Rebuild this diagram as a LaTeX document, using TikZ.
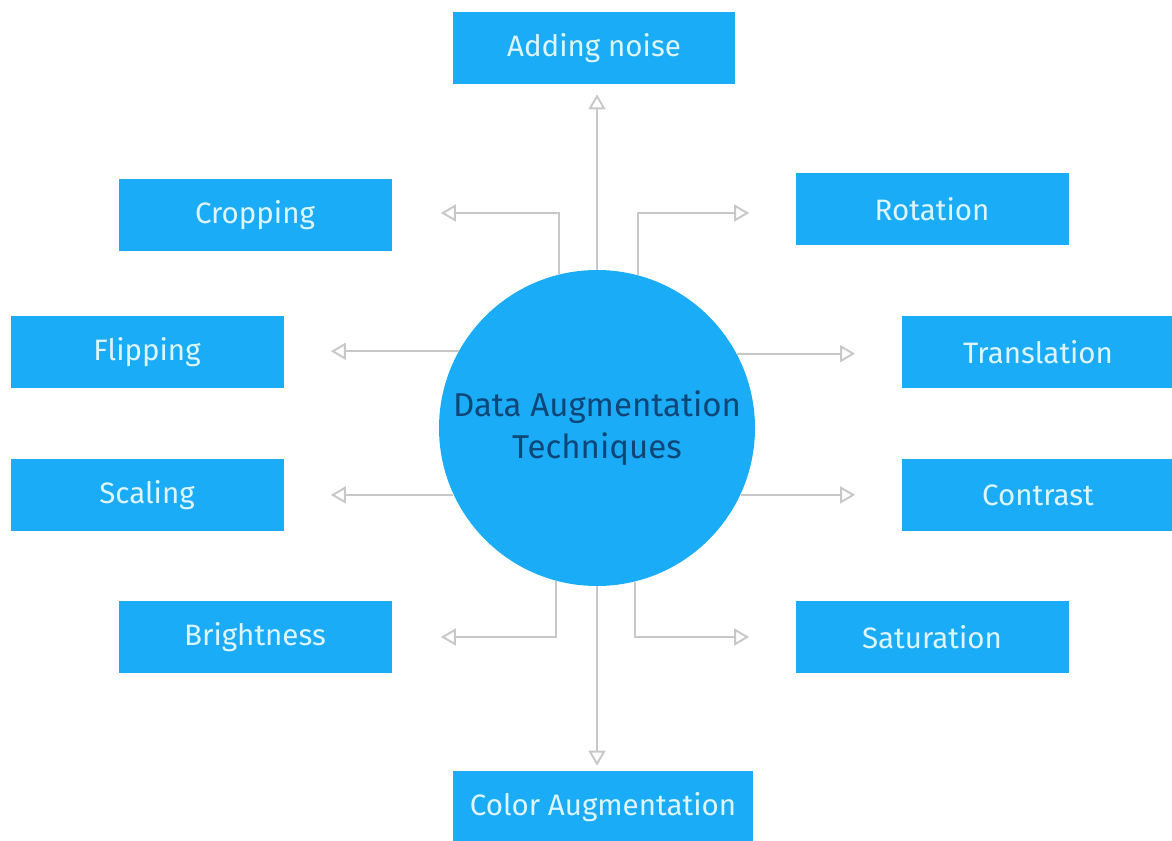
\documentclass[tikz,border=0pt]{standalone}
\usepackage{fontspec}
\setmainfont{Fira Sans}
\usepackage{xcolor}
\usetikzlibrary{arrows.meta}

\definecolor{boxblue}{RGB}{27,172,247}
\definecolor{boxtext}{RGB}{220,245,255}
\definecolor{hubtext}{RGB}{14,70,120}
\definecolor{linkgray}{RGB}{200,200,200}

\tikzset{
  technique/.style={rectangle, fill=boxblue, text=boxtext, minimum width=5.46cm,
    minimum height=1.44cm, font=\fontsize{16.8}{19}\selectfont},
  hub/.style={circle, fill=boxblue, text=hubtext, minimum size=6.32cm, align=center,
    font=\fontsize{18.8}{24}\selectfont},
  link/.style={draw=linkgray, line width=1.1pt,
    -{Triangle[open, length=0.3cm, width=0.34cm]}}
}

\begin{document}
\begin{tikzpicture}
  \useasboundingbox (0,0) rectangle (23.44,-16.8);

  \node[hub]       (hub)    at (11.94,-8.56) {Data Augmentation\\Techniques};
  \node[technique, minimum width=5.64cm] (noise)  at (11.88,-0.96)  {Adding noise};
  \node[technique] (crop)   at (5.10,-4.30)   {Cropping};
  \node[technique] (rot)    at (18.64,-4.18)  {Rotation};
  \node[technique] (flip)   at (2.94,-7.04)   {Flipping};
  \node[technique] (trans)  at (20.76,-7.04)  {Translation};
  \node[technique] (scale)  at (2.94,-9.90)   {Scaling};
  \node[technique] (contr)  at (20.76,-9.90)  {Contrast};
  \node[technique] (bright) at (5.10,-12.74)  {Brightness};
  \node[technique] (sat)    at (18.64,-12.74) {Saturation};
  \node[technique, minimum width=6.0cm] (color)  at (12.06,-16.14) {Color Augmentation};

  % straight up and down
  \draw[link, shorten >=0.2cm] (hub.north) -- (hub.north |- noise.south);
  \draw[link, shorten >=0.1cm] (hub.south) -- (hub.south |- color.north);
  % elbows above and below
  \draw[link, shorten >=0.98cm] (hub.104.7) |- ([yshift=0.04cm]crop.east);
  \draw[link, shorten >=0.92cm] (hub.75.3)  |- ([yshift=-0.08cm]rot.west);
  \draw[link, shorten >=0.98cm] (hub.255.3) |- (bright.east);
  \draw[link, shorten >=0.92cm] (hub.284.7) |- (sat.west);
  % sideways
  \draw[link, shorten >=0.94cm] (hub.151.25) -- (hub.151.25 -| flip.east);
  \draw[link, shorten >=0.94cm] (hub.205.1)  -- (hub.205.1 -| scale.east);
  \draw[link, shorten >=0.92cm] (hub.28.75)  -- (hub.28.75 -| trans.west);
  \draw[link, shorten >=0.92cm] (hub.-25.1)  -- (hub.-25.1 -| contr.west);
\end{tikzpicture}
\end{document}
